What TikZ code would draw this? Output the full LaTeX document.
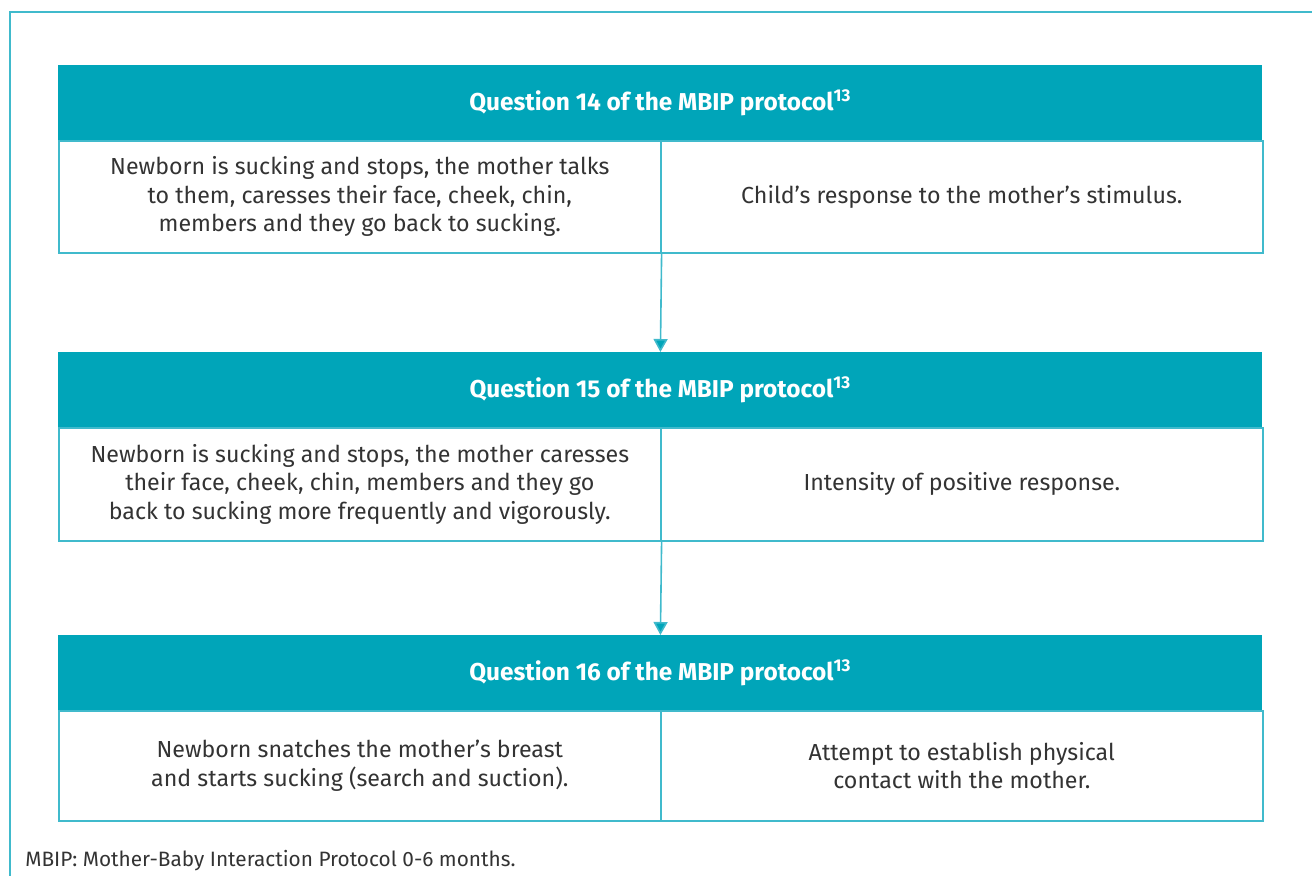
\documentclass[tikz,border=0pt]{standalone}
\usepackage{fontspec}
\setmainfont{Fira Sans}
\usetikzlibrary{arrows.meta}
\definecolor{teal}{RGB}{0,165,185}
\definecolor{rule}{RGB}{64,186,204}
\definecolor{ink}{RGB}{51,51,51}
\begin{document}
\begin{tikzpicture}[x=0.5pt,y=-0.5pt,
  head/.style={fill=teal,draw=none,minimum width=602pt,minimum height=37.5pt,
    inner sep=0pt,text=white,font=\fontsize{12.2}{14}\selectfont\bfseries,anchor=north west},
  cell/.style={draw=rule,line width=0.8pt,minimum width=301pt,minimum height=56pt,
    inner sep=0pt,align=center,text=ink,font=\fontsize{11.6}{14.25}\selectfont,anchor=north west},
  link/.style={draw=rule,line width=0.8pt,-{Triangle[width=7pt,length=6.5pt,fill=teal]}},
  frame/.style={draw=rule,line width=1.2pt}]
\useasboundingbox (0,0) rectangle (1312,876);
% outer frame, open on the right and at the bottom
\draw[frame] (10,876) -- (10,12) -- (1312,12);

% block 1
\node[head] (h1) at (58,65) {Question 14 of the MBIP protocol\textsuperscript{13}};
\node[cell] (l1) at (58,140) {Newborn is sucking and stops, the mother talks\\to them, caresses their face, cheek, chin,\\members and they go back to sucking.};
\node[cell] (r1) at (660,140) {Child’s response to the mother’s stimulus.};

% block 2
\node[head] (h2) at (58,352) {Question 15 of the MBIP protocol\textsuperscript{13}};
\node[cell,minimum height=56.5pt] (l2) at (58,427) {Newborn is sucking and stops, the mother caresses\\their face, cheek, chin, members and they go\\back to sucking more frequently and vigorously.};
\node[cell,minimum height=56.5pt] (r2) at (660,427) {Intensity of positive response.};

% block 3
\node[head] (h3) at (58,635) {Question 16 of the MBIP protocol\textsuperscript{13}};
\node[cell,minimum height=55pt] (l3) at (58,710) {Newborn snatches the mother’s breast\\and starts sucking (search and suction).};
\node[cell,minimum height=55pt] (r3) at (660,710) {Attempt to establish physical\\contact with the mother.};

% connectors
\draw[link] (l1.south east) -- (h2.north);
\draw[link] (l2.south east) -- (h3.north);

% footnote
\node[anchor=base west,inner sep=0pt,text=ink,font=\fontsize{10.4}{12}\selectfont] (note) at (25,866) {MBIP: Mother-Baby Interaction Protocol 0-6 months.};
\end{tikzpicture}
\end{document}
